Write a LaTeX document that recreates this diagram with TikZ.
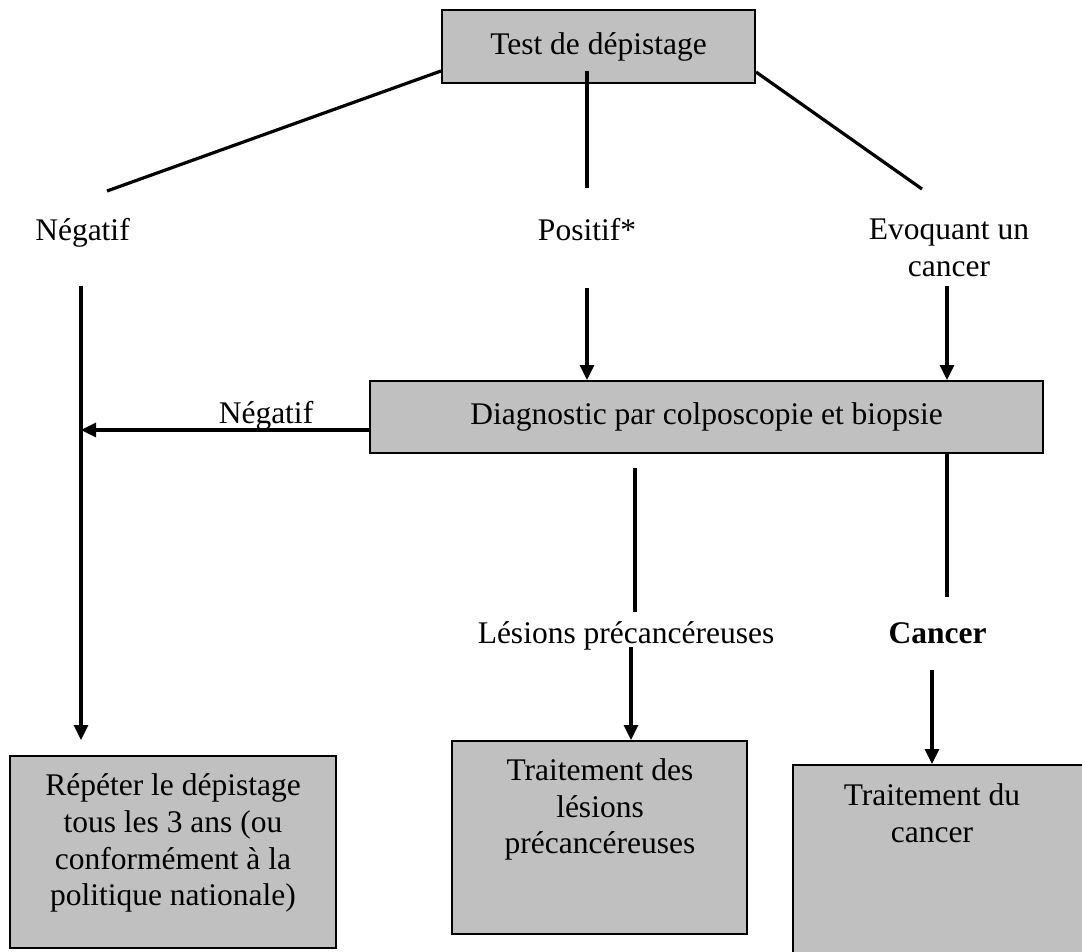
\documentclass[tikz,border=0pt]{standalone}
\usepackage{fontspec}
\setmainfont{Liberation Serif}
\usetikzlibrary{arrows.meta}
\definecolor{boxgrey}{RGB}{192,192,192}

\begin{document}
\begin{tikzpicture}[x=1pt, y=-1pt,
    box/.style = {draw, line width=2pt, fill=boxgrey, inner sep=0pt},
    txt/.style = {inner sep=0pt, font=\fontsize{31.5}{36.7}\selectfont, align=center},
    link/.style = {line width=3.2pt},
    arr/.style = {line width=3.2pt, -{Triangle[length=15pt, width=14pt]}}]
    \useasboundingbox (0,0) rectangle (1082,951);
    \clip (0,0) rectangle (1082,951);

    % test and first results
    \node[box, txt, minimum width=313pt, minimum height=73pt] (test) at (598.5,46.5) {Test de dépistage};
    \node[txt, anchor=base] (neg) at (82.5,240) {Négatif};
    \node[txt, anchor=base] (pos) at (587,240) {Positif*};
    \node[txt, anchor=north] (evoq) at (949,219) {Evoquant un\\cancer};

    % diagnosis
    \node[box, txt, minimum width=673pt, minimum height=72pt] (diag) at (706.5,417) {Diagnostic par colposcopie et biopsie};
    \node[txt, anchor=base] (diagneg) at (266,423) {Négatif};
    \node[txt, anchor=base] (lesions) at (626,643) {Lésions précancéreuses};
    \node[txt, anchor=base, font=\fontsize{31.5}{36.7}\selectfont\bfseries] (cancer) at (937.5,643) {Cancer};

    % outcomes
    \node[box, minimum width=326pt, minimum height=192pt] (repeat) at (173,852) {};
    \node[box, minimum width=295pt, minimum height=193pt] (treatles) at (599.5,837.5) {};
    \node[box, minimum width=310pt, minimum height=210pt] (treatcan) at (948,870) {};
    \node[txt, anchor=north] (repeattxt) at (173,773.5) {Répéter le dépistage\\tous les 3 ans (ou\\conformément à la\\politique nationale)};
    \node[txt, anchor=north] (treatlestxt) at (600,758.5) {Traitement des\\lésions\\précancéreuses};
    \node[txt, anchor=north] (treatcantxt) at (932,783.5) {Traitement du\\cancer};

    \coordinate (negend) at (107,191);
    \coordinate (posstart) at (587,71);
    \coordinate (posend) at (587,188);
    \coordinate (evoqend) at (922,189);
    \coordinate (negdown) at (81,286);
    \coordinate (negtip) at (81,740);
    \coordinate (posdown) at (587,288);
    \coordinate (evoqdown) at (947,286);
    \coordinate (negjoin) at ([yshift=-13pt]diag.west);
    \coordinate (lesup) at (635,468);
    \coordinate (lesend) at (635,612);
    \coordinate (lesdown) at (631,647);
    \coordinate (canend) at (947,597);
    \coordinate (candown) at (932,670);

    \draw[link] ([yshift=13pt]test.south west) -- (negend);
    \draw[link] (posstart) -- (posend);
    \draw[link] ([yshift=12pt]test.south east) -- (evoqend);

    \draw[arr] (negdown) -- (negtip);
    \draw[arr] (posdown) -- (posdown |- diag.north);
    \draw[arr] (evoqdown) -- (evoqdown |- diag.north);
    \draw[arr] (negjoin) -- (negjoin -| negdown);

    \draw[link] (lesup) -- (lesend);
    \draw[arr] (lesdown) -- (lesdown |- treatles.north);
    \draw[link] (canend |- diag.south) -- (canend);
    \draw[arr] (candown) -- (candown |- treatcan.north);
\end{tikzpicture}
\end{document}
